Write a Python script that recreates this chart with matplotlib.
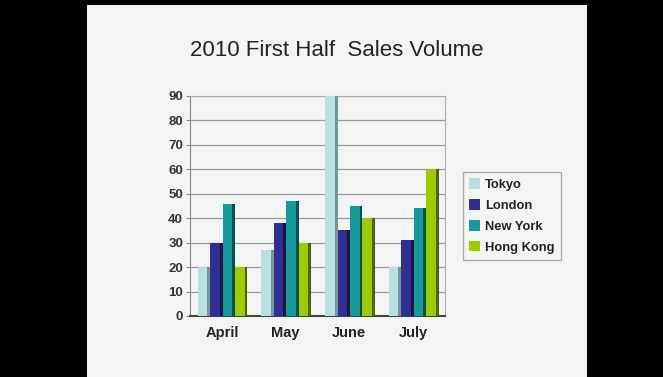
import numpy as np
import matplotlib.pyplot as plt
from matplotlib.patches import Rectangle

months = ["April", "May", "June", "July"]
cities = ["Tokyo", "London", "New York", "Hong Kong"]
tokyo = [20, 27, 90, 20]
london = [30, 38, 35, 31]
new_york = [46, 47, 45, 44]
hong_kong = [20, 30, 40, 60]

series = [tokyo, london, new_york, hong_kong]
face = ["#b9dfe0", "#2f2f92", "#17999a", "#9ccb00"]
side = ["#6f9899", "#14144a", "#0a4f50", "#4f6600"]

fig = plt.figure(figsize=(6.63, 3.77), dpi=100, facecolor="black")
# light panel behind the chart
fig.add_artist(Rectangle((87 / 663, 0), 500 / 663, 372 / 377,
                         transform=fig.transFigure, facecolor="#f3f5f4",
                         edgecolor="none", zorder=0))

ax = fig.add_axes([190 / 663, 1 - 316 / 377, 255 / 663, 220 / 377])
ax.set_facecolor("none")

x = np.arange(len(months)) + 0.5
w = 0.15
d = 0.045
for i, vals in enumerate(series):
    xs = x - 2 * (w + d) + i * (w + d) + 0.01
    ax.bar(xs, vals, width=w, align="edge", color=face[i],
           edgecolor="none", zorder=3, label=cities[i])
    ax.bar(xs + w, vals, width=d, align="edge", color=side[i],
           edgecolor="none", zorder=3)

ax.set_xlim(0, 4)
ax.set_ylim(0, 90)
ax.set_yticks(range(0, 91, 10))
ax.set_xticks(x)
ax.set_xticklabels(months, fontsize=10.5, fontweight="bold", color="#222222",
                   family="Liberation Sans")
ax.tick_params(axis="x", length=0, pad=7)
ax.tick_params(axis="y", length=3, pad=2, color="#888888")
for lab in ax.get_yticklabels():
    lab.set_fontsize(9.5)
    lab.set_fontweight("bold")
    lab.set_color("#333333")
    lab.set_family("Liberation Sans")
ax.grid(axis="y", color="#9a9a9a", linewidth=0.9, zorder=1)
for s in ["top", "right"]:
    ax.spines[s].set_color("#aaaaaa")
    ax.spines[s].set_linewidth(0.8)
ax.spines["left"].set_color("#888888")
ax.spines["bottom"].set_color("#444444")
ax.spines["bottom"].set_linewidth(1.5)

leg = ax.legend(loc="center left", bbox_to_anchor=(1.07, 0.455), frameon=True,
                fancybox=False, edgecolor="#999999", facecolor="#f3f5f4",
                prop={"family": "Liberation Sans", "weight": "bold", "size": 9.3},
                handlelength=0.8, handleheight=0.9, handletextpad=0.4,
                labelspacing=0.62, borderpad=0.5, borderaxespad=0)
for t in leg.get_texts():
    t.set_color("#222222")

fig.text(337 / 663, 1 - 50 / 377, "2010 First Half  Sales Volume",
         ha="center", va="center", fontsize=16, color="#222222",
         family="Liberation Sans")

fig.savefig("out.png", dpi=100, facecolor="black")
